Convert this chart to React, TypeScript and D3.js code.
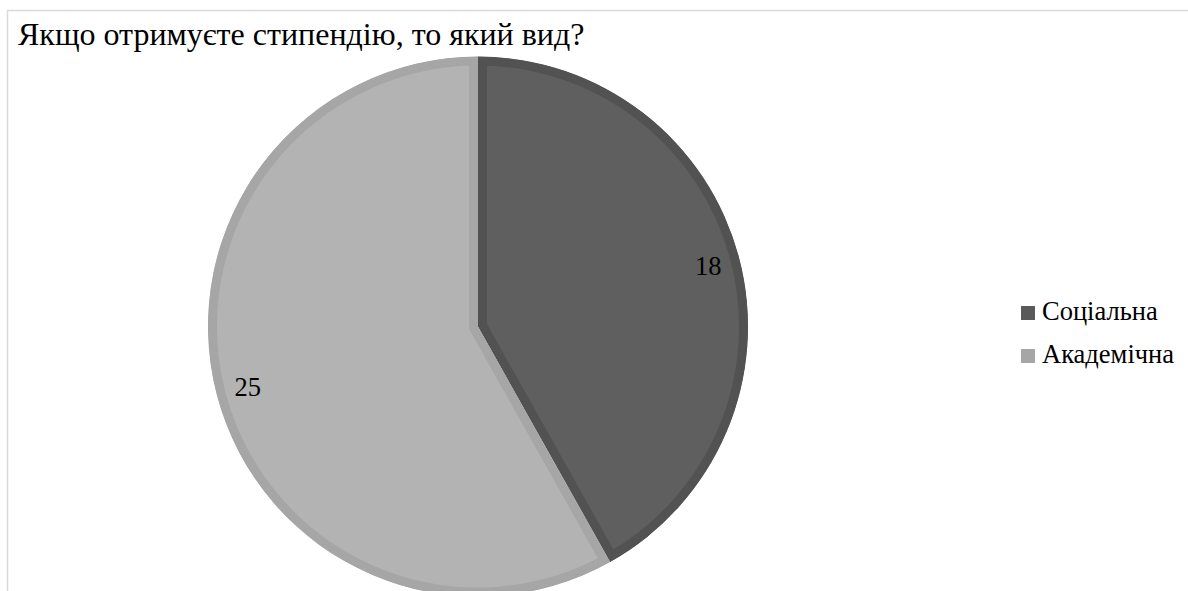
import React from "react";
import * as d3 from "d3";

const title = "Якщо отримуєте стипендію, то який вид?";
const categories = ["Соціальна", "Академічна"];
const values = [18, 25];
const fills = ["#5f5f5f", "#b3b3b3"];
const strokes = ["#525252", "#a6a6a6"];
const legendColors = ["#5a5a5a", "#a6a6a6"];

export default function App() {
  const W = 1188, H = 591;
  const cx = 478, cy = 326.5, r = 270;
  const border = 9;
  const pie = d3.pie<number>().sort(null).value((d) => d);
  const arcs = pie(values);
  const arc = d3.arc<d3.PieArcDatum<number>>().innerRadius(0).outerRadius(r);
  const labelArc = d3.arc<d3.PieArcDatum<number>>().innerRadius(238).outerRadius(238);
  const fontStyle = { fontFamily: "Liberation Serif" };
  return (
    <div style={{ position: "absolute", left: 0, top: 0, width: W, height: H, fontFamily: "Liberation Serif" }}>
      <svg width={W} height={H} style={{ display: "block", background: "#fff" }}>
        <rect x={7.5} y={10.5} width={W + 20} height={H + 20} fill="#fff" stroke="#d9d9d9" strokeWidth={1.5} />
        <defs>
          {arcs.map((a, i) => (
            <clipPath id={`clip${i}`} key={i}>
              <path d={arc(a) || ""} transform={`translate(${cx},${cy})`} />
            </clipPath>
          ))}
        </defs>
        {arcs.map((a, i) => (
          <g key={i} clipPath={`url(#clip${i})`}>
            <path
              d={arc(a) || ""}
              transform={`translate(${cx},${cy})`}
              fill={fills[i]}
              stroke={strokes[i]}
              strokeWidth={border * 2}
              strokeLinejoin="miter"
            />
          </g>
        ))}
        <text x={18} y={45} fontSize={32} fill="#000" style={fontStyle}>{title}</text>
        {arcs.map((a, i) => {
          const [x, y] = labelArc.centroid(a);
          return (
            <text key={i} x={cx + x} y={cy + y} textAnchor="middle" dominantBaseline="central"
              fontSize={26.5} fill="#000" style={fontStyle}>{values[i]}</text>
          );
        })}
        {categories.map((c, i) => (
          <g key={c} transform={`translate(1021, ${306 + i * 43})`}>
            <rect x={0} y={0} width={14} height={14} fill={legendColors[i]} />
            <text x={21} y={14} fontSize={26.5} fill="#000" style={fontStyle}>{c}</text>
          </g>
        ))}
      </svg>
    </div>
  );
}
